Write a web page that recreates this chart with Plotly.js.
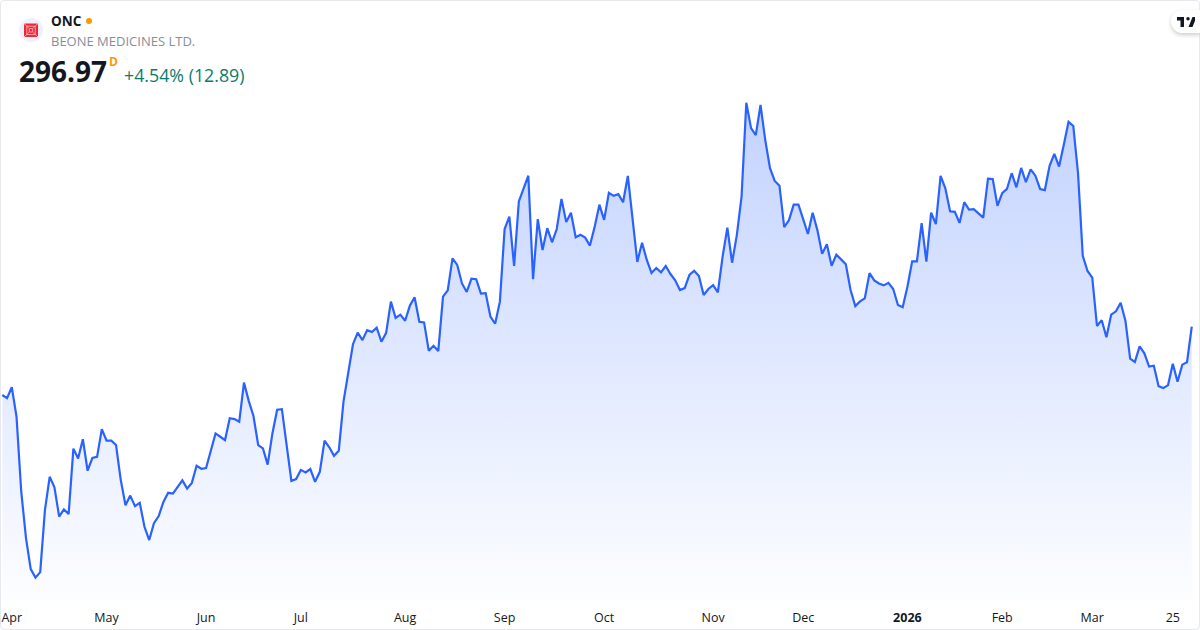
<!DOCTYPE html>
<html><head><meta charset="utf-8">
<script src="https://cdn.plot.ly/plotly-3.0.1.min.js"></script>
<style>
html,body{margin:0;padding:0;background:#fff;width:1200px;height:630px;overflow:hidden}
#chart{position:absolute;left:0;top:0;width:1200px;height:630px}
#frame{position:absolute;left:0;top:0;width:1198px;height:628px;border:1px solid #e6e8ee;border-radius:4px;pointer-events:none}
#pill{position:absolute;left:1171px;top:10px;width:29px;height:23px;background:#fff;border-radius:12px 0 0 12px;box-shadow:0 2px 4px rgba(0,0,0,.2)}
#pill svg{position:absolute;left:6px;top:6.5px}
#logo{position:absolute;left:19px;top:18px}
</style></head><body>
<div id="chart"></div>
<div id="frame"></div>
<div id="pill"><svg width="18" height="10" viewBox="0 0 36 20"><path fill="#131722" d="M14 0H0v7h7v13h7V0zm17 20h-8l8-20h8l-8 20zM22 7a3.5 3.5 0 1 0 0-7 3.5 3.5 0 0 0 0 7z"/></svg></div>
<svg id="logo" width="24" height="24" viewBox="0 0 24 24"><circle cx="12" cy="12" r="12" fill="#eff1f8"/><rect x="5" y="5.5" width="14" height="13.5" rx="1" fill="#ee2737"/><path d="M7.8 8.2h8.4v8.4H7.8zM5 5.5L9.8 10M19 5.5L14.2 10M5 19L9.8 14.6M19 19L14.2 14.6M10.3 10.6h3.4v3.4h-3.4z" fill="none" stroke="#fbd0d4" stroke-width=".7"/></svg>
<script>
const closes = [272.2,271.1,275.0,264.4,237.2,220.4,209.2,206.1,208.1,230.6,242.6,238.8,228.2,230.8,229.1,252.8,249.2,256.2,244.8,249.4,249.8,259.8,255.7,255.7,254.1,241.4,232.3,235.8,232.0,233.2,224.5,219.7,225.8,228.4,233.5,236.8,236.5,238.8,241.3,238.3,240.4,246.6,245.5,245.8,251.6,258.3,257.1,255.9,263.8,263.5,262.5,276.7,270.1,264.6,254.1,252.9,247.0,258.3,266.9,267.1,254.1,241.1,241.8,245.1,244.2,245.4,240.8,244.4,255.7,253.3,250.2,252.0,269.8,280.1,290.6,294.8,292.1,295.7,295.0,296.6,291.5,294.7,306.0,300.1,301.3,299.1,304.5,307.6,298.7,298.5,288.2,290.0,288.1,307.8,310.1,321.7,319.3,312.6,309.5,314.3,314.1,308.9,309.1,300.6,298.0,306.0,332.3,336.8,318.9,342.3,347.0,351.6,314.1,335.9,324.7,332.6,327.5,332.3,343.2,334.8,338.2,329.3,330.2,329.2,326.3,333.1,341.1,335.6,345.4,344.3,344.9,342.0,351.5,336.2,320.4,327.3,321.1,316.4,318.2,316.6,318.9,316.0,313.7,310.2,310.9,315.7,317.2,315.3,308.4,310.6,312.0,309.4,322.3,332.8,320.1,330.1,344.0,378.0,368.8,366.3,377.2,364.5,354.3,349.7,348.0,333.0,335.5,341.1,341.1,335.9,330.5,338.2,331.9,323.3,326.8,319.0,323.0,321.3,319.5,310.2,304.4,306.1,307.2,316.3,313.7,312.6,311.9,312.8,310.6,304.8,304.0,311.4,320.6,320.6,334.4,320.5,338.2,334.1,351.5,347.0,338.7,338.5,334.5,342.0,339.3,339.5,338.0,336.4,350.5,350.4,340.7,345.3,346.8,352.5,347.4,354.4,349.3,353.9,351.6,346.8,346.4,355.2,359.5,354.9,362.8,371.1,369.6,352.5,322.6,317.1,314.7,297.2,299.3,293.1,301.3,302.5,305.6,299.1,285.4,284.2,289.8,287.3,282.5,282.8,275.4,274.7,275.8,283.5,277.0,283.2,284.08,296.97];
const tradingDays = closes.map((_, i) => i);
const tickDays = [2,22,43,63,85,106,127,150,169,191,211,230,247];
const tickLabels = ['Apr','May','Jun','Jul','Aug','Sep','Oct','Nov','Dec','<b>2026</b>','Feb','Mar','25'];
const symbol = 'ONC', companyName = 'BEONE MEDICINES LTD.', lastPrice = '296.97', changeText = '+4.54% (12.89)';

const W = 1200, H = 600;
const px = x => x / W, py = y => (H - y) / H;
const font = 'Open Sans, Noto Sans, sans-serif';
const note = (x, y, text, size, color, extra) => Object.assign({
  xref:'paper', yref:'paper', x:px(x), y:py(y), xanchor:'left', yanchor:'middle',
  text, showarrow:false, align:'left', borderpad:0, font:{family:font, size, color}
}, extra || {});

Plotly.newPlot('chart', [{
  x: tradingDays, y: closes, type:'scatter', mode:'lines',
  line:{color:'#2962FF', width:2.2, shape:'linear'},
  fill:'tozeroy',
  fillcolor:'rgba(41,98,255,0.2)',
  fillgradient:{type:'vertical', start:378, stop:198, colorscale:[[0,'rgba(41,98,255,0.28)'],[1,'rgba(41,98,255,0.01)']]},
  hoverinfo:'skip'
}], {
  width:1200, height:630,
  margin:{l:0, r:0, t:0, b:30, pad:0},
  paper_bgcolor:'#fff', plot_bgcolor:'#fff',
  showlegend:false,
  xaxis:{range:[-0.485,252.74], tickmode:'array', tickvals:tickDays, ticktext:tickLabels,
    showgrid:false, zeroline:false, showline:false, ticks:'', tickangle:0, ticklabelstandoff:8,
    tickfont:{family:font, size:12.5, color:'#131722'}},
  yaxis:{range:[198,415.2], visible:false, showgrid:false, zeroline:false},
  annotations:[
    note(50,20.5,'<b>'+symbol+'</b>',13.5,'#131722'),
    note(50,40.5,companyName,13,'#8a8d96'),
    note(18,71,'<b>'+lastPrice+'</b>',28,'#131722'),
    note(108,61,'<b>D</b>',12,'#ff9800'),
    note(123,75,changeText,17.8,'#097d6b')
  ],
  shapes:[
    {type:'circle', xref:'paper', yref:'paper', x0:px(86), x1:px(92), y0:py(18), y1:py(24), fillcolor:'#ff9800', line:{width:0}}
  ]
}, {staticPlot:true, displayModeBar:false});
</script></body></html>
